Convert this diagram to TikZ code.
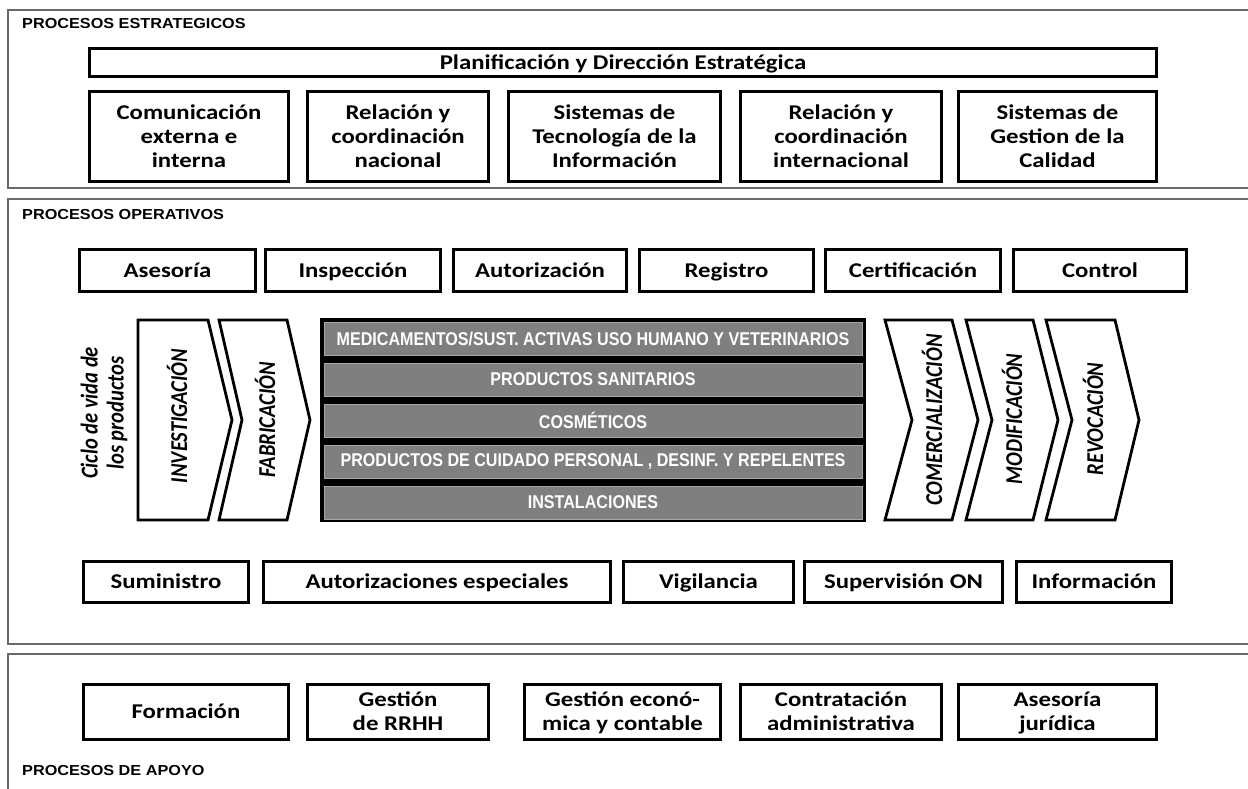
\documentclass[tikz,border=0pt]{standalone}
\usepackage{fontspec}
\newfontfamily\boxfont[FakeStretch=1.18]{Carlito}
\newfontfamily\chevfont{Carlito}
\newfontfamily\secfont[FakeStretch=1.12]{Liberation Sans}
\newfontfamily\rowfont[FakeStretch=0.87]{Liberation Sans}
\definecolor{rowgray}{RGB}{127,127,127}
\definecolor{framegray}{RGB}{105,105,105}
\tikzset{
  frame/.style={draw=framegray, line width=1.3pt},
  bx/.style={draw=black, line width=3pt, fill=white, inner sep=0pt, align=center,
    font=\boxfont\bfseries\fontsize{21}{24}\selectfont},
  chev/.style={draw=black, line width=2.8pt, fill=white, line join=miter},
  chevtext/.style={xscale=1.18, rotate=90, inner sep=0pt, align=center,
    font=\chevfont\bfseries\itshape\fontsize{20.5}{22}\selectfont},
  rowbox/.style={fill=rowgray, draw=black!35, line width=0.8pt, inner sep=0pt, text=white,
    minimum width=538pt, minimum height=33pt,
    font=\rowfont\bfseries\fontsize{18.5}{20}\selectfont},
  sectitle/.style={anchor=west, inner sep=0pt, font=\secfont\bfseries\fontsize{14.5}{16}\selectfont},
}
\newcommand\procbox[6]{%
  \node[bx, minimum width={(#4-#2)*1pt-3pt}, minimum height={(#5-#3)*1pt-3pt}]
    (#1) at ({(#2+#4)/2},{(#3+#5)/2}) {\rule{0pt}{17pt}#6\rule[-3.5pt]{0pt}{3.5pt}};}
\newcommand\chevshape[4]{%
  \draw[chev] (#1,320) -- (#3,320) -- (#4,420) -- (#3,520) -- (#1,520) -- (#2,420) -- cycle;}
\begin{document}
\begin{tikzpicture}[x=1pt,y=-1pt]
\path[use as bounding box] (0,0) rectangle (1248,789);
\clip (0,0) rectangle (1248,789);
\fill[white] (0,0) rectangle (1248,789);

% section frames
\draw[frame] (1260,10) -- (8,10) -- (8,188) -- (1260,188);
\draw[frame] (1260,199) -- (8,199) -- (8,644) -- (1260,644);
\draw[frame] (1260,654) -- (8,654) -- (8,800);

\node[sectitle] (tstrat) at (22,24) {PROCESOS ESTRATEGICOS};
\node[sectitle] (toper) at (22,215) {PROCESOS OPERATIVOS};
\node[sectitle] (tapoyo) at (22,771) {PROCESOS DE APOYO};

% strategic
\procbox{plan}{88}{47}{1158}{78}{Planificación y Dirección Estratégica}
\procbox{s1}{88}{90}{290}{183}{Comunicación\\externa e\\interna}
\procbox{s2}{306}{90}{490}{183}{Relación y\\coordinación\\nacional}
\procbox{s3}{507}{90}{722}{183}{Sistemas de\\Tecnología de la\\Información}
\procbox{s4}{739}{90}{943}{183}{Relación y\\coordinación\\internacional}
\procbox{s5}{957}{90}{1158}{183}{Sistemas de\\Gestion de la\\Calidad}

% operative top row
\procbox{o1}{78}{248}{257}{293}{Asesoría}
\procbox{o2}{264}{248}{442}{293}{Inspección}
\procbox{o3}{452}{248}{628}{293}{Autorización}
\procbox{o4}{638}{248}{815}{293}{Registro}
\procbox{o5}{824}{248}{1002}{293}{Certificación}
\procbox{o6}{1012}{248}{1188}{293}{Control}

% life cycle
\node[chevtext, font=\chevfont\bfseries\itshape\fontsize{20.5}{22}\selectfont] (ciclo) at (104,413) {Ciclo de vida de\\los productos};
\chevshape{138}{138}{208}{232}
\node[chevtext] (inv) at (177,416) {INVESTIGACIÓN};
\chevshape{219}{242}{287}{310}
\node[chevtext] (fab) at (265,420) {FABRICACIÓN};

\fill[black] (320,318) rectangle (866,522);
\node[rowbox] (r1) at (593,338.5) {MEDICAMENTOS/SUST. ACTIVAS USO HUMANO Y VETERINARIOS};
\node[rowbox] (r2) at (593,379.5) {PRODUCTOS SANITARIOS};
\node[rowbox] (r3) at (593,420.5) {COSMÉTICOS};
\node[rowbox] (r4) at (593,461.5) {PRODUCTOS DE CUIDADO PERSONAL , DESINF. Y REPELENTES};
\node[rowbox] (r5) at (593,502.5) {INSTALACIONES};

\chevshape{885}{912}{952}{978}
\node[chevtext] (com) at (932,420) {COMERCIALIZACIÓN};
\chevshape{966}{992}{1033}{1058}
\node[chevtext] (mod) at (1012,419) {MODIFICACIÓN};
\chevshape{1046}{1072}{1115}{1139}
\node[chevtext] (rev) at (1093,419) {REVOCACIÓN};

% operative bottom row
\procbox{b1}{82}{560}{250}{604}{Suministro}
\procbox{b2}{262}{560}{612}{604}{Autorizaciones especiales}
\procbox{b3}{622}{560}{795}{604}{Vigilancia}
\procbox{b4}{803}{560}{1004}{604}{Supervisión ON}
\procbox{b5}{1015}{560}{1173}{604}{Información}

% support
\procbox{a1}{82}{683}{290}{741}{Formación}
\procbox{a2}{306}{683}{490}{741}{Gestión\\de RRHH}
\procbox{a3}{523}{683}{722}{741}{Gestión econó-\\mica y contable}
\procbox{a4}{739}{683}{943}{741}{Contratación\\administrativa}
\procbox{a5}{957}{683}{1158}{741}{Asesoría\\jurídica}
\end{tikzpicture}
\end{document}
